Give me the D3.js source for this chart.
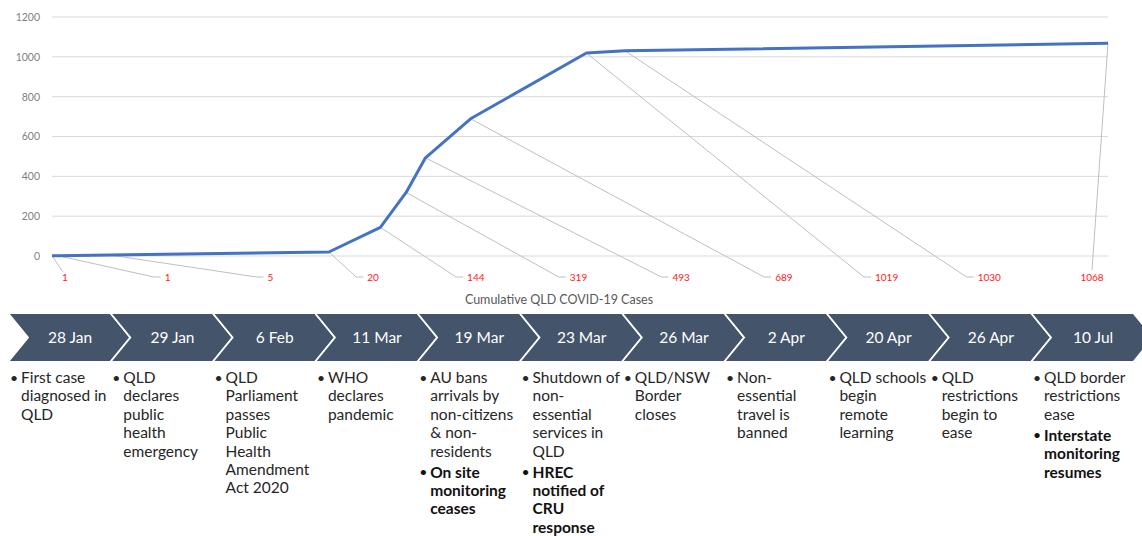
<!DOCTYPE html>
<html>
<head>
<meta charset="utf-8">
<script src="https://cdn.jsdelivr.net/npm/d3@7"></script>
<style>
  html, body { margin: 0; padding: 0; background: #ffffff; }
  svg { display: block; font-family: Lato, Carlito, Calibri, sans-serif; }
</style>
</head>
<body>
<svg id="chart" width="1142" height="536"></svg>
<script>
// ---- data ----
const dates = ["28 Jan", "29 Jan", "6 Feb", "11 Mar", "19 Mar", "23 Mar", "26 Mar", "2 Apr", "20 Apr", "26 Apr", "10 Jul"];
const cases = [1, 1, 5, 20, 144, 319, 493, 689, 1019, 1030, 1068];
const yTicks = [0, 200, 400, 600, 800, 1000, 1200];
const axisTitle = "Cumulative QLD COVID-19  Cases";
const eventText = [
  ["First case", "diagnosed in", "QLD"],
  ["QLD", "declares", "public", "health", "emergency"],
  ["QLD", "Parliament", "passes", "Public", "Health", "Amendment", "Act 2020"],
  ["WHO", "declares", "pandemic"],
  ["AU bans", "arrivals by", "non-citizens", "& non-", "residents"],
  ["Shutdown of", "non-", "essential", "services in", "QLD"],
  ["QLD/NSW", "Border", "closes"],
  ["Non-", "essential", "travel is", "banned"],
  ["QLD schools", "begin", "remote", "learning"],
  ["QLD", "restrictions", "begin to", "ease"],
  ["QLD border", "restrictions", "ease"]
];
const monitorText = [
  null, null, null, null,
  ["On site", "monitoring", "ceases"],
  ["HREC", "notified of", "CRU", "response"],
  null, null, null, null,
  ["Interstate", "monitoring", "resumes"]
];

(function () {
// ---- setup ----
const svg = d3.select("#chart");
const parse = d3.timeParse("%d %b %Y");
const pts = dates.map((d, i) => ({ label: d, date: parse(d + " 2020"), value: cases[i], i }));

const x = d3.scaleTime().domain([pts[0].date, pts[pts.length - 1].date]).range([52, 1108]);
const y = d3.scaleLinear().domain([0, 1200]).range([256, 17]);

// gridlines
svg.append("g").selectAll("line").data(yTicks).join("line")
  .attr("x1", 52).attr("x2", 1108)
  .attr("y1", d => y(d)).attr("y2", d => y(d))
  .attr("stroke", "#d9d9d9").attr("stroke-width", 1);

// y tick labels
const yAxis = d3.axisLeft(y).tickValues(yTicks).tickSize(0).tickPadding(12).tickFormat(d3.format("d"));
const ya = svg.append("g").attr("transform", "translate(52,0)").call(yAxis);
ya.select(".domain").remove();
ya.selectAll("text").attr("fill", "#7f7f7f").style("font-size", "10.5px").style("font-family", "Lato, sans-serif");

// leader lines group (below labels and line)
const leadG = svg.append("g");

// data labels (evenly spaced)
const lx = d3.scalePoint().domain(d3.range(pts.length)).range([65, 1092]);
const labelY = 281;
const labG = svg.append("g");
const labels = labG.selectAll("text").data(pts).join("text")
  .attr("x", d => lx(d.i)).attr("y", labelY)
  .attr("text-anchor", "middle")
  .attr("fill", "#ff2020")
  .style("font-size", "10px")
  .text(d => d.value);

labels.each(function (d) {
  const w = this.getComputedTextLength();
  const px = x(d.date), py = y(d.value);
  const cx = lx(d.i);
  let path;
  if (d.i === 0) {
    path = [[px, py], [cx - 2, labelY - 9]];
  } else if (d.i === pts.length - 1) {
    path = [[px, py], [cx, labelY - 11]];
  } else {
    const left = cx - w / 2;
    path = [[px, py], [left - 11, labelY - 4], [left - 4, labelY - 4]];
  }
  leadG.append("path")
    .attr("d", d3.line()(path))
    .attr("fill", "none")
    .attr("stroke", "#bfbfbf")
    .attr("stroke-width", 1);
});

// line
svg.append("path").datum(pts)
  .attr("d", d3.line().x(d => x(d.date)).y(d => y(d.value)))
  .attr("fill", "none")
  .attr("stroke", "#4472c4")
  .attr("stroke-width", 3)
  .attr("stroke-linejoin", "round");

// axis title
svg.append("text")
  .attr("x", 559).attr("y", 304)
  .attr("text-anchor", "middle")
  .attr("fill", "#595959")
  .style("font-size", "12.5px")
  .text(axisTitle);

// ---- timeline chevrons ----
const band = d3.scaleBand().domain(dates).range([8, 8 + 11 * 102.3]).padding(0);
const bw = band.bandwidth();
const yTop = 313, yBot = 362, yMid = (yTop + yBot) / 2, dep = 20;
const chev = svg.append("g");
chev.selectAll("path").data(dates).join("path")
  .attr("d", d => {
    const x0 = band(d), x1 = x0 + bw;
    return d3.line()([[x0, yTop], [x1, yTop], [x1 + dep, yMid], [x1, yBot], [x0, yBot], [x0 + dep, yMid]]) + "Z";
  })
  .attr("fill", "#44546a")
  .attr("stroke", "#ffffff")
  .attr("stroke-width", 1.8)
  .attr("stroke-linejoin", "miter");
chev.selectAll("text").data(dates).join("text")
  .attr("x", d => band(d) + bw / 2 + dep / 2 + 1)
  .attr("y", yMid + 5.5)
  .attr("text-anchor", "middle")
  .attr("fill", "#ffffff")
  .style("font-size", "15.5px")
  .text(d => d);

// ---- event bullets ----
const lineH = 18.4, paraGap = 2.5, firstY = 383;
const evG = svg.append("g");
dates.forEach((d, i) => {
  const bx = band(d) + 2;
  const tx = band(d) + 13;
  let yy = firstY;
  const paras = [{ lines: eventText[i], bold: false }];
  if (monitorText[i]) paras.push({ lines: monitorText[i], bold: true });
  paras.forEach((p, pi) => {
    if (pi > 0) yy += paraGap;
    evG.append("text")
      .attr("x", bx).attr("y", yy - 0.5)
      .attr("fill", p.bold ? "#111111" : "#262626")
      .style("font-size", "14px")
      .text("\u2022");
    p.lines.forEach(line => {
      evG.append("text")
        .attr("x", tx).attr("y", yy)
        .attr("fill", p.bold ? "#111111" : "#262626")
        .style("font-size", "15.5px")
        .style("font-weight", p.bold ? 700 : 400)
        .text(line);
      yy += lineH;
    });
  });
});
})();
</script>
</body>
</html>
